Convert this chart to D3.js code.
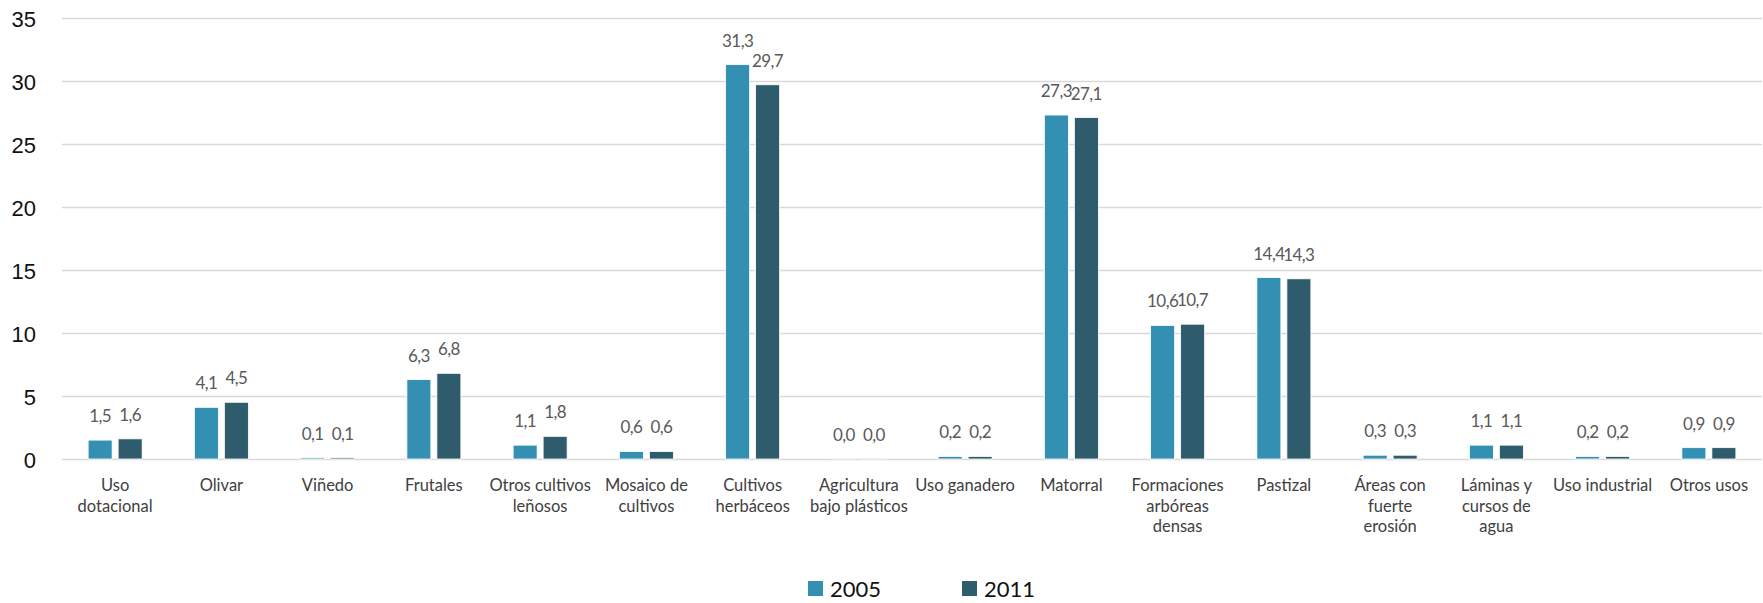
<!DOCTYPE html>
<html>
<head>
<meta charset="utf-8">
<script src="https://cdn.jsdelivr.net/npm/d3@7"></script>
<style>
  body { margin: 0; background: #fff; }
  svg { display: block; font-family: Lato, "Open Sans", sans-serif; }
</style>
</head>
<body>
<div class="chart-container"></div>
<script>
// categories, lines split where the reference wraps them
const categories = [
  "Uso\ndotacional", "Olivar", "Viñedo", "Frutales", "Otros cultivos\nleñosos",
  "Mosaico de\ncultivos", "Cultivos\nherbáceos", "Agricultura\nbajo plásticos",
  "Uso ganadero", "Matorral", "Formaciones\narbóreas\ndensas", "Pastizal",
  "Áreas con\nfuerte\nerosión", "Láminas y\ncursos de\nagua", "Uso industrial", "Otros usos"
];
const series = ["2005", "2011"];
const values2005 = [1.5, 4.1, 0.1, 6.3, 1.1, 0.6, 31.3, 0.03, 0.2, 27.3, 10.6, 14.4, 0.3, 1.1, 0.2, 0.9];
const values2011 = [1.6, 4.5, 0.1, 6.8, 1.8, 0.6, 29.7, 0.03, 0.2, 27.1, 10.7, 14.3, 0.3, 1.1, 0.2, 0.9];
const yTicks = [0, 5, 10, 15, 20, 25, 30, 35];
const colors = ["#3490b3", "#2e5c6c"];

const width = 1763, height = 603;
const plotLeft = 62, plotRight = 1762, plotTop = 18, plotBottom = 459;

const svg = d3.select(".chart-container")
  .append("svg")
  .attr("width", width)
  .attr("height", height);

const x = d3.scaleBand()
  .domain(categories)
  .range([plotLeft, plotRight]);

const xInner = d3.scaleBand()
  .domain(series)
  .range([0, 54])
  .paddingInner(0.2);

const y = d3.scaleLinear()
  .domain([0, 35])
  .range([plotBottom, plotTop]);

const color = d3.scaleOrdinal().domain(series).range(colors);
const fmt = v => d3.format(".1f")(v).replace(".", ",");

// y axis + gridlines
const yAxis = svg.append("g")
  .attr("transform", `translate(${plotLeft},0)`)
  .call(d3.axisLeft(y).tickValues(yTicks).tickSize(-(plotRight - plotLeft)).tickPadding(26));
yAxis.select(".domain").remove();
yAxis.selectAll(".tick line").attr("stroke", "#d9d9d9").attr("stroke-width", 1.5);
yAxis.selectAll(".tick text")
  .attr("fill", "#111")
  .style("font-size", "22px")
  .attr("dy", "0.38em");

const rows = categories.map((c, i) => ({ cat: c, vals: [values2005[i], values2011[i]] }));
const groupOffset = (x.bandwidth() - 54) / 2;

const groups = svg.append("g")
  .selectAll("g")
  .data(rows)
  .enter().append("g")
  .attr("transform", d => `translate(${x(d.cat) + groupOffset},0)`);

const cells = groups.selectAll("g")
  .data(d => d.vals.map((v, j) => ({ key: series[j], value: v })))
  .enter().append("g");

cells.append("rect")
  .attr("x", d => xInner(d.key))
  .attr("width", xInner.bandwidth())
  .attr("y", d => y(d.value))
  .attr("height", d => y(0) - y(d.value))
  .attr("fill", d => color(d.key))
  .attr("stroke", "#fff")
  .attr("stroke-width", 0.8);

// data labels
cells.append("text")
  .attr("x", d => xInner(d.key) + xInner.bandwidth() / 2)
  .attr("y", d => y(d.value) - 18)
  .attr("text-anchor", "middle")
  .attr("fill", "#595959")
  .style("font-size", "17px")
  .style("letter-spacing", "-0.6px")
  .text(d => fmt(d.value));

// category labels
svg.append("g")
  .selectAll("text")
  .data(categories)
  .enter().append("text")
  .attr("text-anchor", "middle")
  .attr("fill", "#404040")
  .style("font-size", "16.5px")
  .each(function (c) {
    const t = d3.select(this);
    c.split("\n").forEach((line, k) => {
      t.append("tspan")
        .attr("x", x(c) + x.bandwidth() / 2)
        .attr("y", 491 + k * 20.5)
        .text(line);
    });
  });

// legend
const legend = svg.append("g")
  .selectAll("g")
  .data(series)
  .enter().append("g")
  .attr("transform", (d, i) => `translate(${808 + i * 154},581)`);

legend.append("rect")
  .attr("width", 15)
  .attr("height", 15)
  .attr("fill", d => color(d));

legend.append("text")
  .attr("x", 22)
  .attr("y", 16)
  .attr("fill", "#111")
  .style("font-size", "22px")
  .text(d => d);
</script>
</body>
</html>
